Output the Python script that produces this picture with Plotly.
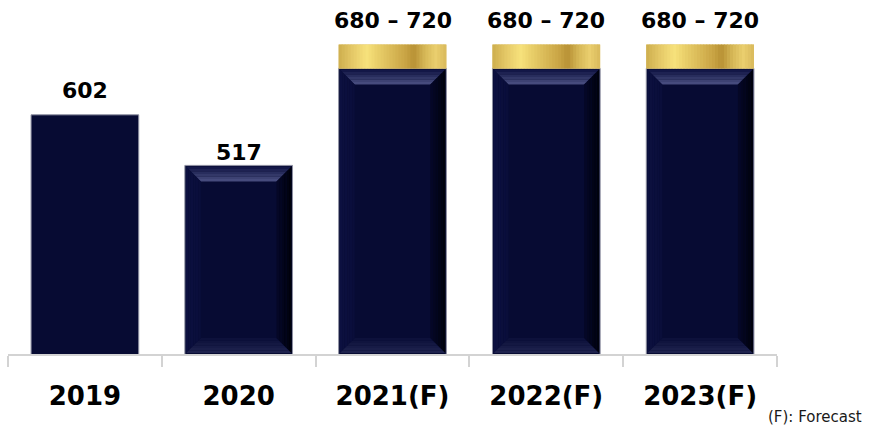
import plotly.graph_objects as go

# ---- data -----------------------------------------------------------------
years = ["2019", "2020", "2021(F)", "2022(F)", "2023(F)"]
base_values = [602, 517, 680, 680, 680]        # actual value, or low end of forecast range
range_high = [None, None, 720, 720, 720]       # high end of forecast range
bevelled = [False, True, True, True, True]

# ---- layout constants ----------------------------------------------------
W, H = 876, 425
MARGIN = dict(l=8, r=99, t=0, b=71)
Y0, Y1 = 200, 795
BAR_W = 0.7
NAVY = "#070B33"
GOLD = "#D9BA5A"
FONT = "DejaVu Sans"

plot_w = W - MARGIN["l"] - MARGIN["r"]
plot_h = H - MARGIN["t"] - MARGIN["b"]
PX_X = len(years) / plot_w          # category units per pixel
PX_Y = (Y1 - Y0) / plot_h           # value units per pixel


def hex2rgb(h):
    h = h.lstrip("#")
    return tuple(int(h[i:i + 2], 16) for i in (0, 2, 4))


def mix(c1, c2, f):
    a, b = hex2rgb(c1), hex2rgb(c2)
    return "#%02x%02x%02x" % tuple(round(a[i] + (b[i] - a[i]) * f) for i in range(3))


def ramp(stops, f):
    for (p0, c0), (p1, c1) in zip(stops, stops[1:]):
        if p0 <= f <= p1:
            return mix(c0, c1, (f - p0) / (p1 - p0) if p1 > p0 else 0)
    return stops[-1][1]


def poly(pts, color):
    path = "M " + " L ".join(f"{x:.5f},{y:.4f}" for x, y in pts) + " Z"
    return dict(type="path", path=path, xref="x", yref="y", fillcolor=color,
                line=dict(width=0), layer="above")


fig = go.Figure()

fig.add_trace(go.Bar(
    x=years, y=base_values, width=BAR_W,
    marker=dict(color=NAVY, line=dict(color="#8E90A2", width=1)),
    hoverinfo="x+y", showlegend=False,
))

fc_x = [x for x, h in zip(years, range_high) if h is not None]
fc_lo = [v for v, h in zip(base_values, range_high) if h is not None]
fc_hi = [h for h in range_high if h is not None]
fig.add_trace(go.Bar(
    x=fc_x, base=fc_lo, y=[h - l for h, l in zip(fc_hi, fc_lo)], width=BAR_W,
    marker=dict(color=GOLD, line=dict(width=0)),
    hoverinfo="x", showlegend=False,
))

shapes = []
hw = BAR_W / 2

# metallic gold shading across each forecast band
gold_stops = [(0.0, "#CDAE4E"), (0.12, "#E3C766"), (0.26, "#F7E27C"), (0.36, "#E9CF6A"),
              (0.5, "#D8B856"), (0.62, "#C9A445"), (0.7, "#B89235"), (0.8, "#D6B757"),
              (0.9, "#EACF6E"), (1.0, "#D9B95C")]
N_STRIPES = 36
for i, (lo, hi) in enumerate(zip(base_values, range_high)):
    if hi is None:
        continue
    step = BAR_W / N_STRIPES
    for k in range(N_STRIPES):
        xa = i - hw + k * step
        xb = min(xa + step * 1.35, i + hw)
        col = ramp(gold_stops, (k + 0.5) / N_STRIPES)
        shapes.append(poly([(xa, lo), (xb, lo), (xb, hi), (xa, hi)], col))

# bevelled edges on the navy bars
DEPTH = 15
N_BANDS = 6
for i, (top, bev) in enumerate(zip(base_values, bevelled)):
    if not bev:
        continue
    L, R, T, B = i - hw, i + hw, top, Y0
    e = 1
    for k in range(N_BANDS):
        d0 = e + DEPTH * k / N_BANDS
        d1 = e + DEPTH * (k + 1) / N_BANDS
        f = (k + 0.5) / N_BANDS
        x0, x1 = d0 * PX_X, d1 * PX_X
        y0, y1 = d0 * PX_Y, d1 * PX_Y
        # top
        shapes.append(poly([(L + x0, T - y0), (R - x0, T - y0), (R - x1, T - y1), (L + x1, T - y1)],
                           ramp([(0, "#0E1241"), (0.7, "#3A3F70"), (1, "#4B5082")], f)))
        # bottom
        shapes.append(poly([(L + x0, B + y0), (R - x0, B + y0), (R - x1, B + y1), (L + x1, B + y1)],
                           mix("#20244F", "#0B0F39", f)))
        # left
        shapes.append(poly([(L + x0, T - y0), (L + x1, T - y1), (L + x1, B + y1), (L + x0, B + y0)],
                           mix("#0C1040", "#0A0E3A", f)))
        # right
        shapes.append(poly([(R - x0, T - y0), (R - x1, T - y1), (R - x1, B + y1), (R - x0, B + y0)],
                           mix("#00010A", "#050829", f)))

# value labels above bars (x given as category position)
annotations = []
label_shift = [10, -2, 10, 10, 10]
for i, (lo, hi) in enumerate(zip(base_values, range_high)):
    text = f"{lo}" if hi is None else f"{lo} \u2013 {hi}"
    annotations.append(dict(
        x=i, y=lo if hi is None else hi, xref="x", yref="y",
        text=text, showarrow=False, yanchor="bottom", yshift=label_shift[i],
        font=dict(family=FONT, size=22, color="#000000", weight="bold"),
    ))

annotations.append(dict(
    x=0.986, y=-0.178, xref="paper", yref="paper", xanchor="left", yanchor="middle",
    text="(F): Forecast", showarrow=False,
    font=dict(family=FONT, size=15, color="#1a1a1a"),
))

fig.update_layout(
    width=W, height=H, margin=MARGIN,
    paper_bgcolor="white", plot_bgcolor="white",
    barmode="overlay", bargap=0.3,
    shapes=shapes, annotations=annotations,
    xaxis=dict(
        type="category", categoryorder="array", categoryarray=years,
        range=[-0.5, len(years) - 0.5],
        showline=True, linecolor="#D3D3D3", linewidth=1.5,
        ticks="outside", tickson="boundaries", ticklen=11, tickwidth=1.5, tickcolor="#D3D3D3",
        tickfont=dict(family=FONT, size=26, color="#000000", weight="bold"),
        ticklabelstandoff=18,
        showgrid=False, zeroline=False, fixedrange=True,
    ),
    yaxis=dict(range=[Y0, Y1], visible=False, showgrid=False, zeroline=False, fixedrange=True),
)

fig.write_html("out.html")
